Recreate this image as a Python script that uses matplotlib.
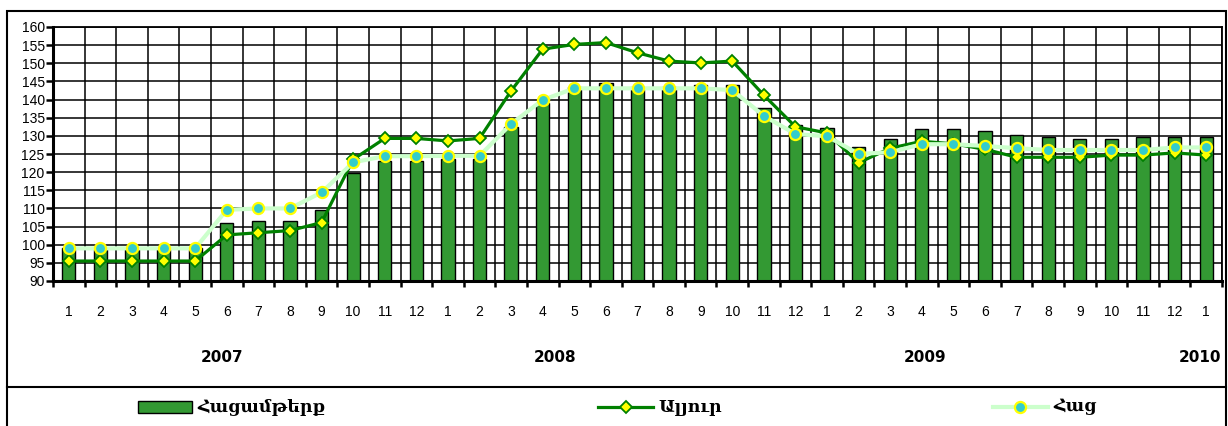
import numpy as np
import matplotlib.pyplot as plt
from matplotlib.patches import Rectangle
from matplotlib.lines import Line2D

plt.rcParams["font.family"] = ["Liberation Sans", "DejaVu Sans"]

# months Jan 2007 .. Jan 2010
months = [1, 2, 3, 4, 5, 6, 7, 8, 9, 10, 11, 12] * 3 + [1]
years = ["2007", "2008", "2009", "2010"]
year_pos = [4.85, 15.4, 27.1, 35.8]

bakery = [99, 99, 99, 99, 99, 106.1, 106.6, 106.6, 109.7, 119.8, 123.0, 123.0,
          123.5, 123.5, 132.5, 139.0, 143.4, 144.5, 143.4, 143.4, 143.9, 143.9, 137.8, 133.0,
          132.1, 127.0, 129.2, 132.0, 132.0, 131.3, 130.2, 129.6, 129.2, 129.2, 129.8, 129.8,
          129.8]
flour = [95.5, 95.5, 95.5, 95.5, 95.5, 102.7, 103.3, 103.9, 106.1, 123.5, 129.3, 129.3,
         128.6, 129.3, 142.4, 153.9, 155.2, 155.7, 152.9, 150.6, 150.1, 150.6, 141.2, 132.5,
         130.8, 122.6, 126.6, 128.5, 127.8, 126.3, 124.1, 124.1, 124.1, 124.7, 124.7, 125.3,
         124.7]
bread = [99.0, 99.0, 99.0, 99.0, 99.0, 109.6, 110.0, 110.0, 114.4, 122.7, 124.4, 124.4,
         124.5, 124.5, 133.3, 139.9, 143.1, 143.1, 143.1, 143.1, 143.1, 142.6, 135.5, 130.5,
         129.9, 125.0, 125.5, 127.7, 127.7, 127.2, 126.6, 126.1, 126.1, 126.1, 126.1, 126.8,
         126.8]

labels = ["Հացամթերք", "Ալյուր", "Հաց"]

W, H = 1228, 426
fig = plt.figure(figsize=(W / 100, H / 100), dpi=100)
ax = fig.add_axes([53 / W, 1 - 281 / H, (1222 - 53) / W, (281 - 27) / H])

x = np.arange(len(months))
bar_c = "#339933"
flour_c = "#008000"
bread_c = "#ccffcc"

ax.bar(x, bakery, width=0.42, color=bar_c, edgecolor="black", linewidth=1, zorder=2)
ax.plot(x, flour, color=flour_c, lw=2.3, marker="D", ms=6.5, mfc="#ffff00", mec=flour_c,
        mew=1.3, zorder=3)
ax.plot(x, bread, color=bread_c, lw=3, marker="o", ms=8, mfc="#33cccc", mec="#ffff00",
        mew=1.6, zorder=4)

ax.set_xlim(-0.5, len(months) - 0.5)
ax.set_ylim(90, 160)
ax.set_yticks(np.arange(90, 161, 5))
ax.set_xticks(x)
ax.set_xticklabels([str(m) for m in months])
ax.set_xticks(np.arange(-0.5, len(months), 1), minor=True)

ax.set_axisbelow(True)
ax.grid(axis="y", which="major", color="black", lw=1.1)
ax.grid(axis="x", which="minor", color="black", lw=1.1)
ax.grid(axis="x", which="major", visible=False)

ax.tick_params(axis="x", which="major", length=0, pad=17, labelsize=10)
ax.tick_params(axis="x", which="minor", length=4.5, width=1.8, direction="out")
ax.tick_params(axis="y", length=5, width=1.8, direction="out", pad=1, labelsize=10)

for s in ["left", "bottom"]:
    ax.spines[s].set_linewidth(2.2)
for s in ["top", "right"]:
    ax.spines[s].set_linewidth(1.3)

# year labels: data x, fixed pixel row
for yr, p in zip(years, year_pos):
    xf = ax.transData.transform((p, 90))[0] / W
    fig.text(xf, 1 - 358 / H, yr, ha="center", va="center", fontsize=11,
             fontweight="bold", family="DejaVu Sans")

# outer frame and legend separator
fig.add_artist(Rectangle((7 / W, -0.05), (1226 - 7) / W, 1.05 - 11 / H, transform=fig.transFigure,
                         fill=False, edgecolor="black", lw=1.5))
fig.add_artist(Line2D([7 / W, 1226 / W], [1 - 387 / H] * 2, transform=fig.transFigure,
                      color="black", lw=1.5))

# legend
ly = 1 - 407 / H
fig.add_artist(Rectangle((138 / W, 1 - 413 / H), 54 / W, 12 / H, transform=fig.transFigure,
                         facecolor=bar_c, edgecolor="black", lw=1))
fig.add_artist(Line2D([598 / W, 653 / W], [ly, ly], transform=fig.transFigure, color=flour_c, lw=2.3))
fig.add_artist(Line2D([626 / W], [ly], transform=fig.transFigure, marker="D", ms=6.5,
                      mfc="#ffff00", mec=flour_c, mew=1.3))
fig.add_artist(Line2D([993 / W, 1048 / W], [ly, ly], transform=fig.transFigure, color=bread_c, lw=3))
fig.add_artist(Line2D([1020 / W], [ly], transform=fig.transFigure, marker="o", ms=8,
                      mfc="#33cccc", mec="#ffff00", mew=1.6))
for lab, lx in zip(labels, [197, 658, 1053]):
    fig.text(lx / W, ly, lab, ha="left", va="center", fontsize=12.5, fontweight="bold",
             family=["DejaVu Serif", "DejaVu Sans"])

fig.savefig("out.png", dpi=100)
